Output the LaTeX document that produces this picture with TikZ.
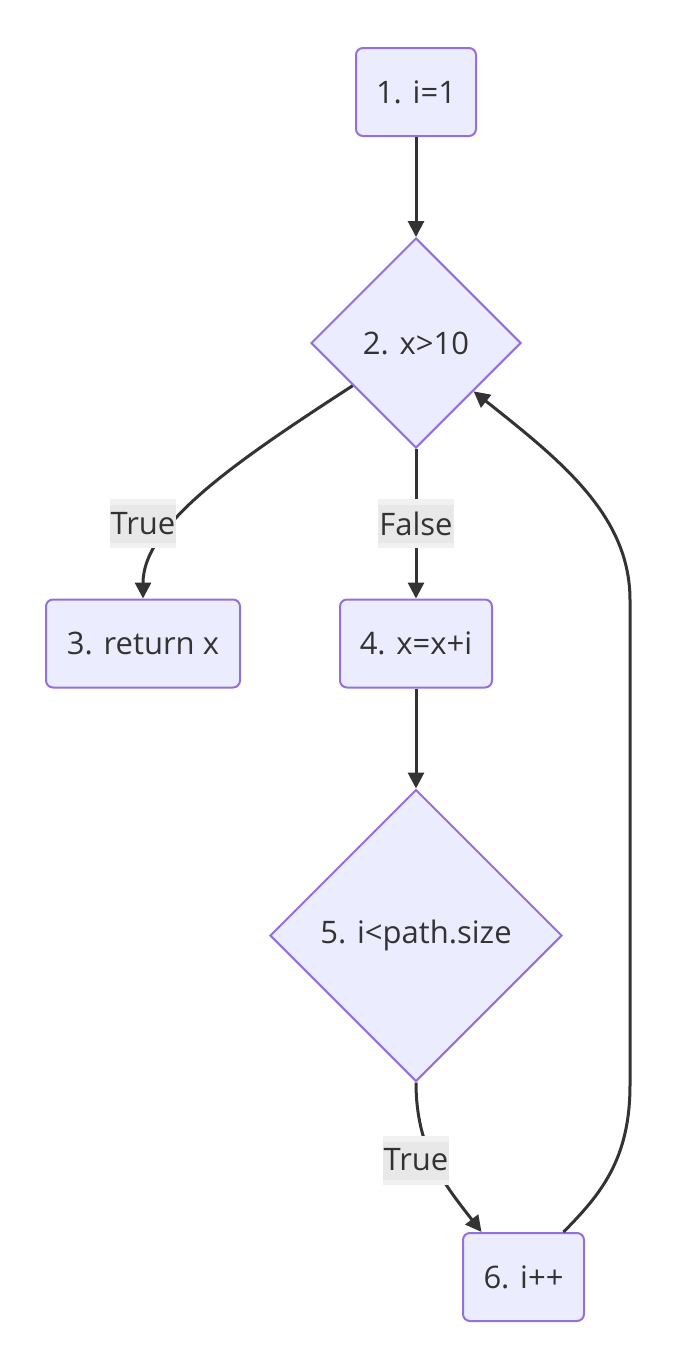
\documentclass[tikz,border=0pt]{standalone}
\usepackage{fontspec}
\setmainfont{Open Sans}
\usetikzlibrary{shapes.geometric,arrows.meta}
\definecolor{nodefill}{HTML}{ECECFF}
\definecolor{nodedraw}{HTML}{9370DB}
\definecolor{edgecol}{HTML}{333333}
\definecolor{lblout}{HTML}{F1F1F1}
\definecolor{lblin}{HTML}{E8E8E8}
\tikzset{
  every node/.style={font=\fontsize{31}{36}\selectfont, text=edgecol},
  procbox/.style={draw=nodedraw, fill=nodefill, line width=2pt, rounded corners=7pt, minimum height=88pt, inner sep=0pt},
  decision/.style={diamond, draw=nodedraw, fill=nodefill, line width=2pt, inner sep=0pt, aspect=1},
  flow/.style={draw=edgecol, line width=3pt, -{Triangle[length=16pt,width=16pt]}},
  elabel/.style={fill=lblout, inner xsep=1pt, minimum height=49pt, minimum width=66pt,
    path picture={\fill[lblin] ([yshift=-6pt]path picture bounding box.north west) rectangle ([yshift=5pt]path picture bounding box.south east);}},
}
\begin{document}
\begin{tikzpicture}[x=1pt,y=-1pt]
\useasboundingbox (0,0) rectangle (684,1360);
\node[procbox, minimum width=120pt] (n1) at (416,92) {1. i=1};
\node[decision, minimum width=210pt, minimum height=210pt] (n2) at (416,343) {2. x>10};
\node[procbox, minimum width=194pt] (n3) at (143,643.5) {3. return x};
\node[procbox, minimum width=152pt] (n4) at (416,643.5) {4. x=x+i};
\node[decision, minimum width=292pt, minimum height=292pt] (n5) at (416,935.5) {5. i<path.size};
\node[procbox, minimum width=121pt] (n6) at (523.5,1277) {6. i++};

\coordinate (r1) at (630,1085);
\coordinate (r2) at (630,600);

\draw[flow] (n1.south) -- (n2.north);
\draw[flow] (n2.214) .. controls (235,462) and (143,525) .. (n3.north);
\draw[flow] (n2.south) -- (n4.north);
\draw[flow] (n4.south) -- (n5.north);
\draw[flow] (n5.south) .. controls (416,1150) and (445,1185) .. ([xshift=-42pt]n6.north);
\draw[flow] ([xshift=40pt]n6.north) .. controls (600,1195) and (630,1160) .. (r1) -- (r2) .. controls (630,515) and (560,460) .. (n2.-40);

\node[elabel] (l1) at (143,523.5) {True};
\node[elabel] (l2) at (416,523.5) {False};
\node[elabel] (l3) at (416,1160) {True};
\end{tikzpicture}
\end{document}
